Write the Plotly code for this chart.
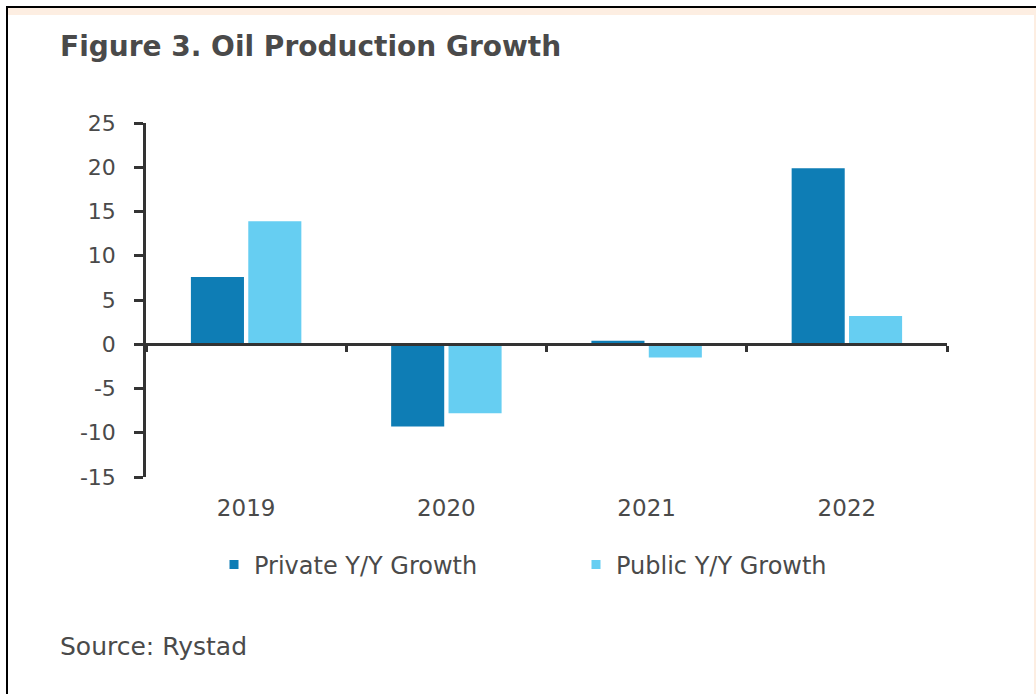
import plotly.graph_objects as go

# Oil production growth, year over year (%)
years = ["2019", "2020", "2021", "2022"]
private_growth = [7.6, -9.3, 0.4, 19.9]
public_growth = [13.9, -7.8, -1.5, 3.2]
y_ticks = [25, 20, 15, 10, 5, 0, -5, -10, -15]

PRIVATE_COLOR = "#0E7DB5"
PUBLIC_COLOR = "#66CEF2"
TEXT_COLOR = "#4A4A4A"
AXIS_COLOR = "#333333"
FONT = "DejaVu Sans, Open Sans, sans-serif"

W, H = 1036, 694
L, R, T, B = 146, 89, 123, 217
PW, PH = W - L - R, H - T - B


def px(x):
    """Pixel column -> paper x."""
    return (x - L) / PW


def py(y):
    """Pixel row -> paper y."""
    return 1 - (y - T) / PH


fig = go.Figure()

fig.add_trace(go.Bar(x=years, y=private_growth, name="Private Y/Y Growth",
                     marker=dict(color=PRIVATE_COLOR, line=dict(width=0)),
                     showlegend=False))
fig.add_trace(go.Bar(x=years, y=public_growth, name="Public Y/Y Growth",
                     marker=dict(color=PUBLIC_COLOR, line=dict(width=0)),
                     showlegend=False))

# small square legend keys
for name, color in [("Private Y/Y Growth", PRIVATE_COLOR), ("Public Y/Y Growth", PUBLIC_COLOR)]:
    fig.add_trace(go.Scatter(x=[None], y=[None], mode="markers", name=name,
                             marker=dict(symbol="square", size=9, color=color),
                             hoverinfo="skip"))

# empty trace carrying the zero-level category axis
fig.add_trace(go.Scatter(x=years, y=[None] * len(years), xaxis="x2", yaxis="y",
                         mode="markers", showlegend=False, hoverinfo="skip"))

y_min, y_max = -15, 25

fig.update_layout(
    width=W, height=H,
    margin=dict(l=L, r=R, t=T, b=B, pad=0),
    paper_bgcolor="white", plot_bgcolor="white",
    font=dict(family=FONT, color=TEXT_COLOR, size=22),
    barmode="group", bargap=0.427, bargroupgap=0.075,
    showlegend=True,
    legend=dict(orientation="h", x=px(214), xanchor="left", y=py(565), yanchor="middle",
                font=dict(size=24, color=TEXT_COLOR), bgcolor="rgba(0,0,0,0)",
                entrywidth=317, entrywidthmode="pixels", itemclick=False),
    xaxis=dict(type="category", range=[-0.5, 3.5], showline=False, showgrid=False,
               zeroline=False, ticks="", tickfont=dict(size=23, color=TEXT_COLOR),
               ticklabelstandoff=15, fixedrange=True),
    xaxis2=dict(type="category", range=[-0.5, 3.5], overlaying="x", anchor="free",
                position=(0 - y_min) / (y_max - y_min), showline=True, linewidth=2.5,
                linecolor=AXIS_COLOR, ticks="outside", tickson="boundaries", ticklen=6,
                tickwidth=2.5, tickcolor=AXIS_COLOR, showticklabels=False,
                showgrid=False, zeroline=False, fixedrange=True),
    yaxis=dict(range=[y_min, y_max], tickvals=y_ticks, ticktext=[str(v) for v in y_ticks],
               showline=True, linewidth=2.5,
               linecolor=AXIS_COLOR, ticks="outside", ticklen=9, tickwidth=2.5,
               tickcolor=AXIS_COLOR, showgrid=False, zeroline=False,
               tickfont=dict(size=22, color=TEXT_COLOR), ticklabelstandoff=14,
               fixedrange=True),
)

# title and source note
fig.add_annotation(text="Figure 3. Oil Production Growth", xref="paper", yref="paper",
                   x=px(58), y=py(46), xanchor="left", yanchor="middle", showarrow=False,
                   font=dict(family=FONT, size=28, color=TEXT_COLOR, weight="bold"))
fig.add_annotation(text="Source: Rystad", xref="paper", yref="paper",
                   x=px(58), y=py(646), xanchor="left", yanchor="middle", showarrow=False,
                   font=dict(family=FONT, size=25, color=TEXT_COLOR))

# page frame: black top/left rule, pale peach band and right edge
fig.add_shape(type="rect", xref="paper", yref="paper", x0=px(8), x1=px(1036), y0=py(8), y1=py(15),
              fillcolor="#FDEEE2", line=dict(width=0), layer="below")
fig.add_shape(type="rect", xref="paper", yref="paper", x0=px(1034), x1=px(1036), y0=py(8), y1=py(694),
              fillcolor="#FDEEE2", line=dict(width=0), layer="below")
fig.add_shape(type="rect", xref="paper", yref="paper", x0=px(6), x1=px(1036), y0=py(6), y1=py(8),
              fillcolor="black", line=dict(width=0))
fig.add_shape(type="rect", xref="paper", yref="paper", x0=px(6), x1=px(8), y0=py(6), y1=py(694),
              fillcolor="black", line=dict(width=0))

fig.write_html("out.html", config=dict(displayModeBar=False))
